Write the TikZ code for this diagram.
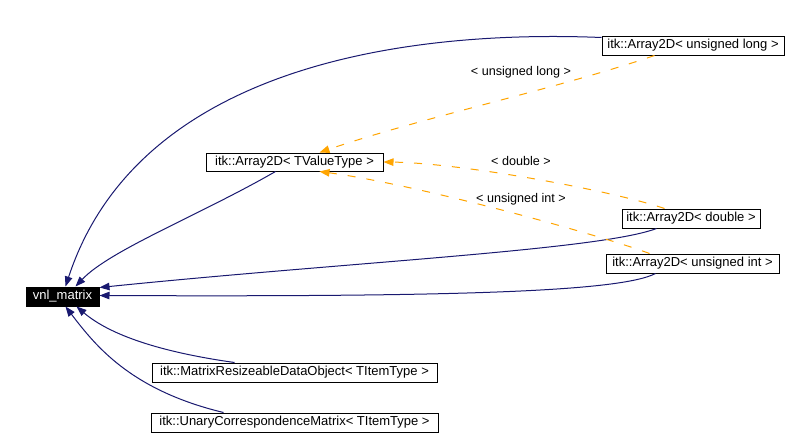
\documentclass[tikz,border=0pt]{standalone}
\usepackage{fontspec}
\setmainfont{Liberation Sans}
\usetikzlibrary{arrows.meta}
\definecolor{navy}{HTML}{191970}
\definecolor{dorange}{HTML}{FFA500}
\begin{document}
\begin{tikzpicture}[x=1pt,y=-1pt,
  box/.style={draw=black,line width=1pt,inner sep=0pt,minimum height=19pt,font=\fontsize{13}{15}\selectfont},
  inh/.style={draw=navy,line width=1pt,-{Triangle[length=10pt,width=7.5pt,fill=navy]}},
  tmpl/.style={draw=dorange,line width=1pt,dash pattern=on 8pt off 11pt,-{Triangle[length=10pt,width=7.5pt,fill=dorange]}},
  lbl/.style={font=\fontsize{12.6}{14}\selectfont,inner sep=0pt}]
\useasboundingbox[fill=white] (0,0) rectangle (809,439);
\node[box,fill=black,text=white,minimum width=73pt] (vnl) at (62.5,296.5) {vnl\_matrix};
\node[box,minimum width=182pt] (ul) at (693,45.5) {itk::Array2D< unsigned long >};
\node[box,minimum width=177pt,minimum height=18pt] (tv) at (294.5,162) {itk::Array2D< TValueType >};
\node[box,minimum width=138pt] (dbl) at (691,218.5) {itk::Array2D< double >};
\node[box,minimum width=173pt] (ui) at (692.5,263.5) {itk::Array2D< unsigned int >};
\node[box,minimum width=285pt] (mr) at (294.5,372.5) {itk::MatrixResizeableDataObject< TItemType >};
\node[box,minimum width=287pt] (un) at (294.5,422.5) {itk::UnaryCorrespondenceMatrix< TItemType >};
% inheritance edges
\draw[inh] ([yshift=-2pt]ul.north west) .. controls (420,30) and (140,60) .. ([xshift=40pt]vnl.north west);
\draw[inh] ([xshift=70pt]tv.south west) .. controls (200,215) and (110,250) .. ([xshift=50pt]vnl.north west);
\draw[inh] ([xshift=35pt]dbl.south west) .. controls (600,250) and (350,262) .. ([yshift=-1pt]vnl.north east);
\draw[inh] ([xshift=50pt]ui.south west) .. controls (620,292) and (450,297) .. ([yshift=-9pt]vnl.north east);
\draw[inh] ([xshift=83pt]mr.north west) .. controls (160,352) and (110,335) .. ([xshift=51pt]vnl.south west);
\draw[inh] ([xshift=73pt]un.north west) .. controls (130,390) and (95,345) .. ([xshift=40pt]vnl.south west);
% template edges
\draw[tmpl] ([xshift=53pt]ul.south west) .. controls (560,88) and (420,118) .. ([xshift=114pt]tv.north west);
\draw[tmpl] ([xshift=43pt]dbl.north west) .. controls (610,190) and (460,163) .. (tv.east);
\draw[tmpl] ([xshift=44pt]ui.north west) .. controls (600,235) and (420,185) .. ([xshift=114pt]tv.south west);
\node[lbl] (la) at (521,72) {< unsigned long >};
\node[lbl] (lb) at (521,161) {< double >};
\node[lbl] (lc) at (521,199) {< unsigned int >};
\end{tikzpicture}
\end{document}
